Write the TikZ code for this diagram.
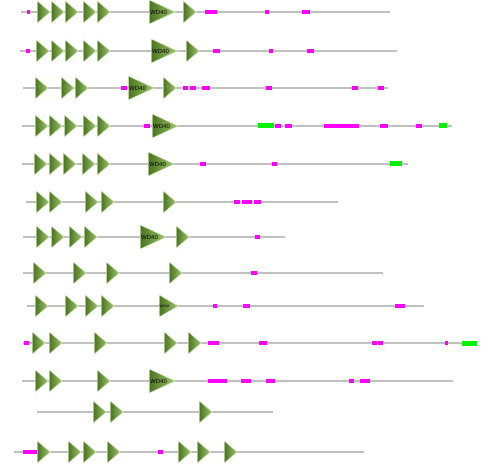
\documentclass[tikz,border=0pt]{standalone}
\usepackage{fontspec}
\setsansfont{Liberation Sans}
\usetikzlibrary{shapes.geometric}
\definecolor{repdark}{RGB}{74,118,30}
\definecolor{replight}{RGB}{160,198,112}
\definecolor{repedge}{RGB}{218,234,200}
\definecolor{backgrey}{RGB}{192,192,192}
\definecolor{lcpink}{RGB}{255,0,255}
\definecolor{ccgreen}{RGB}{0,240,0}

\begin{document}
\begin{tikzpicture}
[x=1pt, y=-1pt,
% STYLES
% the backbone of each protein
backbone/.style={draw=backgrey, line width=2.4pt},
% low complexity regions and coiled coils
lowcomp/.style={fill=lcpink},
coil/.style={fill=ccgreen},
% the small repeats
rep/.style={isosceles triangle, isosceles triangle stretches, inner sep=0pt, minimum width=22pt, minimum height=13pt, anchor=west, left color=repdark, right color=replight, draw=repedge, line width=0.6pt, font=\fontsize{5}{5}\selectfont, text=black!45},
% the WD40 domain
wd/.style={rep, minimum width=24pt, minimum height=26pt},
wdtext/.style={anchor=west, inner sep=0pt, font=\fontsize{6}{6}\sffamily}]

\useasboundingbox (0,0) rectangle (493,465);

% row 1
\def\y{12}
\draw[backbone] (21,\y) -- (390,\y);
\foreach \a/\b in {27/30,205/217,265/269,302/310} \fill[lowcomp] (\a,\y-2) rectangle (\b,\y+2);
\foreach \x [count=\i] in {37,51,65,83,97,183} \node[rep] (r1-\i) at (\x,\y) {-\,-};
\node[wd] (r1-wd) at (149,\y) {};
\node[wdtext] at ([xshift=1pt]r1-wd.west) {WD40};

% row 2
\def\y{51}
\draw[backbone] (20,\y) -- (397,\y);
\foreach \a/\b in {26/30,213/220,269/273,307/314} \fill[lowcomp] (\a,\y-2) rectangle (\b,\y+2);
\foreach \x [count=\i] in {36,51,65,83,97,186} \node[rep] (r2-\i) at (\x,\y) {-\,-};
\node[wd] (r2-wd) at (151,\y) {};
\node[wdtext] at ([xshift=1pt]r2-wd.west) {WD40};

% row 3
\def\y{88}
\draw[backbone] (23,\y) -- (388,\y);
\foreach \a/\b in {121/127,183/188,190/196,202/210,266/272,352/358,378/384} \fill[lowcomp] (\a,\y-2) rectangle (\b,\y+2);
\foreach \x [count=\i] in {35,61,75,163} \node[rep] (r3-\i) at (\x,\y) {-\,-};
\node[wd] (r3-wd) at (128,\y) {};
\node[wdtext] at ([xshift=1pt]r3-wd.west) {WD40};

% row 4
\def\y{126}
\draw[backbone] (22,\y) -- (452,\y);
\foreach \a/\b in {144/150,275/281,285/292,324/359,380/388,416/422} \fill[lowcomp] (\a,\y-2) rectangle (\b,\y+2);
\foreach \a/\b in {258/274,439/447} \fill[coil] (\a,\y-2.5) rectangle (\b,\y+2.5);
\foreach \x [count=\i] in {35,49,64,83,97} \node[rep] (r4-\i) at (\x,\y) {-\,-};
\node[wd] (r4-wd) at (152,\y) {};
\node[wdtext] at ([xshift=1pt]r4-wd.west) {WD40};

% row 5
\def\y{164}
\draw[backbone] (22,\y) -- (408,\y);
\foreach \a/\b in {200/206,272/277} \fill[lowcomp] (\a,\y-2) rectangle (\b,\y+2);
\fill[coil] (390,\y-2.5) rectangle (402,\y+2.5);
\foreach \x [count=\i] in {34,49,63,82,97} \node[rep] (r5-\i) at (\x,\y) {-\,-};
\node[wd] (r5-wd) at (148,\y) {};
\node[wdtext] at ([xshift=1pt]r5-wd.west) {WD40};

% row 6
\def\y{202}
\draw[backbone] (26,\y) -- (338,\y);
\foreach \a/\b in {234/240,242/252,254/261} \fill[lowcomp] (\a,\y-2) rectangle (\b,\y+2);
\foreach \x [count=\i] in {36,49,85,101,163} \node[rep] (r6-\i) at (\x,\y) {-\,-};

% row 7
\def\y{237}
\draw[backbone] (23,\y) -- (285,\y);
\fill[lowcomp] (255,\y-2) rectangle (260,\y+2);
\foreach \x [count=\i] in {36,51,69,84,176} \node[rep] (r7-\i) at (\x,\y) {-\,-};
\node[wd] (r7-wd) at (140,\y) {};
\node[wdtext] at ([xshift=1pt]r7-wd.west) {WD40};

% row 8
\def\y{273}
\draw[backbone] (23,\y) -- (383,\y);
\fill[lowcomp] (251,\y-2) rectangle (257,\y+2);
\foreach \x [count=\i] in {33,73,106,169} \node[rep] (r8-\i) at (\x,\y) {-\,-};

% row 9
\def\y{306}
\draw[backbone] (27,\y) -- (424,\y);
\foreach \a/\b in {213/217,243/250,395/405} \fill[lowcomp] (\a,\y-2) rectangle (\b,\y+2);
\foreach \x [count=\i] in {35,65,85,101} \node[rep] (r9-\i) at (\x,\y) {-\,-};
\node[wd, minimum width=22pt, minimum height=19pt] (r9-wd) at (159,\y) {};
\node[wdtext, font=\fontsize{3.5}{3.5}\sffamily] at ([xshift=0.5pt]r9-wd.west) {WD40};

% row 10
\def\y{343}
\draw[backbone] (23,\y) -- (477,\y);
\foreach \a/\b in {24/29,208/219,259/267,372/377,377.8/383,445/448} \fill[lowcomp] (\a,\y-2) rectangle (\b,\y+2);
\fill[coil] (462,\y-2.5) rectangle (477,\y+2.5);
\foreach \x [count=\i] in {32,49,94,164,188} \node[rep] (r10-\i) at (\x,\y) {-\,-};

% row 11
\def\y{381}
\draw[backbone] (22,\y) -- (453,\y);
\foreach \a/\b in {208/227,241/251,266/275,349/354,360/370} \fill[lowcomp] (\a,\y-2) rectangle (\b,\y+2);
\foreach \x [count=\i] in {35,49,97} \node[rep] (r11-\i) at (\x,\y) {-\,-};
\node[wd] (r11-wd) at (149,\y) {};
\node[wdtext] at ([xshift=1pt]r11-wd.west) {WD40};

% row 12
\def\y{412}
\draw[backbone] (37,\y) -- (273,\y);
\foreach \x [count=\i] in {93,110,199} \node[rep] (r12-\i) at (\x,\y) {-\,-};

% row 13
\def\y{452}
\draw[backbone] (14,\y) -- (364,\y);
\foreach \a/\b in {23/37,158/163} \fill[lowcomp] (\a,\y-2) rectangle (\b,\y+2);
\foreach \x [count=\i] in {37,68,83,107,178,197,224} \node[rep] (r13-\i) at (\x,\y) {-\,-};

\end{tikzpicture}
\end{document}
